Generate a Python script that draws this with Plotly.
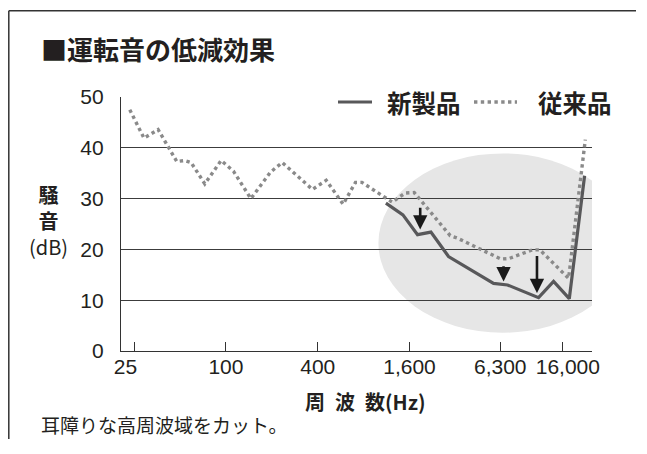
import numpy as np
import plotly.graph_objects as go

# ---- data ----
old_freq = [23.4, 29.0, 35.9, 47.6, 53.7, 59.1, 72.7, 93.0, 112.0, 145.7, 195.9, 233.8,
            369.5, 454.4, 587.5, 707.5, 779.3, 1232, 1499, 1717, 2958, 3304, 6364,
            7181, 10210, 11470, 17680, 22750]
old_db = [47.5, 41.9, 43.6, 37.3, 37.5, 37.1, 32.9, 37.5, 35.4, 30.0, 35.2, 37.1,
          31.8, 33.6, 28.9, 33.2, 33.2, 29.3, 31.1, 31.2, 22.7, 22.2, 18.1,
          18.2, 19.9, 19.9, 14.3, 41.6]
new_freq = [1120, 1448, 1805, 2210, 2884, 5690, 7031, 11230, 14090, 17860, 22510]
new_db = [29.1, 26.8, 22.9, 23.4, 18.6, 13.3, 13.0, 10.5, 13.7, 10.3, 34.5]

x_tickvals = [25, 100, 400, 1600, 6300, 16000]
x_ticktext = ["25\u2007\u2008", "100", "400", "1,600", "6,300", "\u200716,000"]
y_tickvals = [0, 10, 20, 30, 40, 50]
grid_vals = [10, 20, 30, 40]

arrow_freq = [1880, 6619, 10965]
arrow_from = [28.5, 17.0, 19.0]
arrow_to = [23.9, 13.7, 11.4]

ellipse_freq = [1000, 42800]
ellipse_db = [3.6, 38.9]

x_range_hz = [20.5, 25170]

series_names = ["新製品", "従来品"]
title_text = "■運転音の低減効果"
ytitle_lines = ["<b>騒</b>", "<b>音</b>", "(dB)"]
xtitle_text = "周\u2002波\u2002数(Hz)"
caption_text = "耳障りな高周波域をカット。"

# ---- layout geometry (figure pixels) ----
W, H = 629, 432
ML, MR, MT, MB = 113, 45, 89, 89
PW, PH = W - ML - MR, H - MT - MB


def fx(x):
    return (x - ML) / PW


def fy(y):
    return (H - MB - y) / PH


JP = "Noto Sans CJK JP"
NUM = "Liberation Sans"
INK = "#231f20"
NEW_COLOR, OLD_COLOR = "#58585a", "#8a8a8a"
NEW_W, OLD_W = 3.2, 3.4
FRAME = dict(color="#333333", width=1.5)

fig = go.Figure()

fig.add_trace(go.Scatter(
    x=new_freq, y=new_db, mode="lines", name=series_names[0], showlegend=False,
    line=dict(color=NEW_COLOR, width=NEW_W),
))
fig.add_trace(go.Scatter(
    x=old_freq, y=old_db, mode="lines", name=series_names[1], showlegend=False,
    line=dict(color=OLD_COLOR, width=OLD_W, dash="dot"),
))

shapes = [
    dict(type="circle", xref="x", yref="y",
         x0=ellipse_freq[0], x1=ellipse_freq[1], y0=ellipse_db[0], y1=ellipse_db[1],
         fillcolor="#e6e6e6", line=dict(width=0), layer="below"),
    # outer frame (only top and left edges are inside the picture)
    dict(type="line", xref="paper", yref="paper", x0=fx(0.8), x1=fx(W - 1),
         y0=fy(2.8), y1=fy(2.8), line=FRAME, layer="below"),
    dict(type="line", xref="paper", yref="paper", x0=fx(0.8), x1=fx(0.8),
         y0=fy(2.8), y1=fy(H - 1), line=FRAME, layer="below"),
    # legend samples
    dict(type="line", xref="paper", yref="paper", x0=fx(330), x1=fx(364),
         y0=fy(94), y1=fy(94), line=dict(color=NEW_COLOR, width=NEW_W)),
    dict(type="line", xref="paper", yref="paper", x0=fx(466), x1=fx(509),
         y0=fy(94), y1=fy(94), line=dict(color=OLD_COLOR, width=OLD_W, dash="dot")),
]

annotations = []
for f, a, b in zip(arrow_freq, arrow_from, arrow_to):
    annotations.append(dict(
        x=np.log10(f), y=b, ax=np.log10(f), ay=a, xref="x", yref="y",
        axref="x", ayref="y", text="", showarrow=True, arrowhead=2,
        arrowsize=1.1, arrowwidth=2.6, arrowcolor="#1a1a1a", standoff=0,
    ))

legend_font = dict(family=JP, size=24.5, color=INK, weight="bold")
annotations += [
    dict(text=series_names[0], xref="paper", yref="paper", x=fx(377), y=fy(95),
         xanchor="left", yanchor="middle", showarrow=False, font=legend_font),
    dict(text=series_names[1], xref="paper", yref="paper", x=fx(528), y=fy(95),
         xanchor="left", yanchor="middle", showarrow=False, font=legend_font),
    dict(text="<br>".join(ytitle_lines), xref="paper", yref="paper",
         x=fx(40.5), y=fy(212), xanchor="center", yanchor="middle",
         showarrow=False, align="center",
         font=dict(family=JP, size=20, color=INK)),
    dict(text=xtitle_text, xref="paper", yref="paper", x=fx(357), y=fy(393),
         xanchor="center", yanchor="middle", showarrow=False,
         font=dict(family=JP, size=20, color=INK, weight="bold")),
    dict(text=caption_text, xref="paper", yref="paper", x=fx(31), y=fy(416),
         xanchor="left", yanchor="middle", showarrow=False,
         font=dict(family=JP, size=19, color=INK)),
]

fig.update_layout(
    width=W, height=H,
    margin=dict(l=ML, r=MR, t=MT, b=MB, pad=0),
    paper_bgcolor="white", plot_bgcolor="rgba(0,0,0,0)",
    title=dict(text=title_text, x=33 / W, xanchor="left", y=1 - 42.5 / H, yanchor="middle",
               font=dict(family=JP, size=26, color=INK, weight="bold")),
    shapes=shapes, annotations=annotations,
    showlegend=False,
    xaxis=dict(type="log", range=[np.log10(x_range_hz[0]), np.log10(x_range_hz[1])],
               tickvals=x_tickvals, ticktext=x_ticktext, ticks="inside", ticklen=9,
               tickcolor="#333333", tickwidth=1.2, showgrid=False, zeroline=False,
               showline=True, linecolor="#333333", linewidth=1.2, tickangle=0,
               ticklabelstandoff=-3,
               tickfont=dict(family=NUM, size=21, color=INK), fixedrange=True),
    yaxis=dict(range=[0, 50], tickvals=y_tickvals, ticks="", showgrid=False,
               zeroline=False, showline=True, linecolor="#333333", linewidth=1.2,
               ticklabelstandoff=12,
               minor=dict(tickvals=grid_vals, showgrid=True, gridcolor="#3c3c3c",
                          gridwidth=1.1, ticks=""),
               tickfont=dict(family=NUM, size=21, color=INK), fixedrange=True),
)

fig.write_html("out.html")
